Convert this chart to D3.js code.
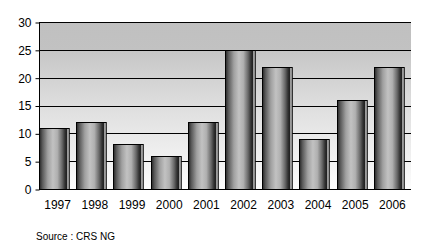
<!DOCTYPE html>
<html><head><meta charset="utf-8">
<script src="https://cdn.jsdelivr.net/npm/d3@7"></script>
<style>body{margin:0;background:#fff}svg{display:block}</style>
</head><body><div id="chart"></div>
<script>
const years = ["1997","1998","1999","2000","2001","2002","2003","2004","2005","2006"];
const values = [11, 12, 8, 6, 12, 25, 22, 9, 16, 22];
const yTicks = [0, 5, 10, 15, 20, 25, 30];
const sourceText = "Source : CRS NG";

const W = 438, H = 248;
const m = {left: 39, right: 27, top: 22, bottom: 59};
const svg = d3.select("#chart").append("svg").attr("width", W).attr("height", H);
const defs = svg.append("defs");

const bg = defs.append("linearGradient").attr("id","bg").attr("x1",0).attr("y1",0).attr("x2",0).attr("y2",1);
[[0,"#c0c0c0"],[0.166,"#c2c2c2"],[0.17,"#c6c6c6"],[0.5,"#dedede"],[0.8,"#f0f0f0"],[1,"#fdfdfd"]]
  .forEach(([o,c])=>bg.append("stop").attr("offset",o).attr("stop-color",c));

const bar = defs.append("linearGradient").attr("id","bar").attr("x1",0).attr("y1",0).attr("x2",1).attr("y2",0);
[[0,"#262626"],[0.1,"#5a5a5a"],[0.28,"#a0a0a0"],[0.45,"#c2c2c2"],[0.6,"#b0b0b0"],[0.76,"#686868"],[0.86,"#303030"],[0.91,"#222222"],[0.94,"#9a9a9a"],[1,"#d8d8d8"]]
  .forEach(([o,c])=>bar.append("stop").attr("offset",o).attr("stop-color",c));

const x = d3.scaleBand().domain(years).range([m.left, W - m.right]).padding(0);
const y = d3.scaleLinear().domain([0, 30]).range([H - m.bottom, m.top]);

const g = svg.append("g");
g.append("rect").attr("x", m.left).attr("y", y(30)).attr("width", W - m.right - m.left).attr("height", y(0) - y(30)).attr("fill","url(#bg)");

g.selectAll("line.grid").data(yTicks.filter(t=>t>0)).join("line").attr("class","grid")
  .attr("x1", m.left).attr("x2", W - m.right)
  .attr("y1", d=>Math.round(y(d))+0.5).attr("y2", d=>Math.round(y(d))+0.5)
  .attr("stroke","#000").attr("stroke-width",1);

const bw = x.bandwidth() * 0.8;
g.selectAll("rect.bar").data(values).join("rect").attr("class","bar")
  .attr("x", (d,i)=>Math.round(x(years[i]))+0.5)
  .attr("y", d=>Math.round(y(d))+0.5)
  .attr("width", bw)
  .attr("height", d=>Math.round(y(0)) - Math.round(y(d)))
  .attr("fill","url(#bar)").attr("stroke","#000").attr("stroke-width",1);

// y axis
const yAxis = d3.axisLeft(y).tickValues(yTicks).tickSize(4).tickPadding(4);
const ya = svg.append("g").attr("transform",`translate(${m.left+0.5},0.5)`).call(yAxis);
ya.select(".domain").attr("stroke","#000").attr("d", `M0,${y(30)}V${y(0)}`);
ya.selectAll(".tick line").attr("stroke","#000");
ya.selectAll("text").attr("font-family","Liberation Sans, Arial, sans-serif").attr("font-size","12px").attr("fill","#000");

// x axis
const xAxis = d3.axisBottom(x).tickSize(0).tickPadding(11);
const xa = svg.append("g").attr("transform",`translate(0,${Math.round(y(0))+0.5})`).call(xAxis);
xa.select(".domain").attr("stroke","#000").attr("d", `M${m.left},0H${W-m.right}`);
xa.selectAll("text").attr("font-family","Liberation Sans, Arial, sans-serif").attr("font-size","12px").attr("fill","#000");

svg.append("text").attr("x", 36).attr("y", 240).text(sourceText)
  .attr("font-family","Liberation Sans, Arial, sans-serif").attr("font-size","10px").attr("fill","#000");
</script></body></html>
